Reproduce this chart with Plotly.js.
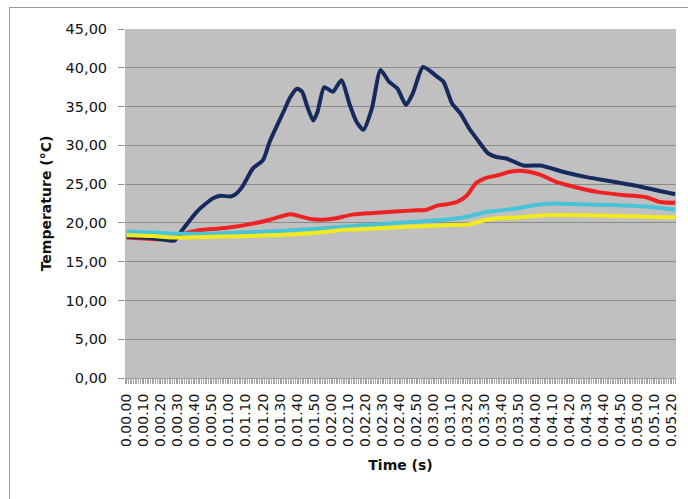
<!DOCTYPE html>
<html>
<head>
<meta charset="utf-8">
<script src="https://cdn.plot.ly/plotly-3.0.1.min.js"></script>
<style>
  html, body { margin: 0; padding: 0; background: #fff; }
  #wrap { position: relative; width: 688px; height: 499px; overflow: hidden; }
  #chart { width: 688px; height: 499px; }
  #frame { position: absolute; left: 9px; top: 7px; width: 720px; height: 540px;
           border: 1px solid #9a9a9a; pointer-events: none; }
</style>
</head>
<body>
<div id="wrap">
  <div id="chart"></div>
  <div id="frame"></div>
</div>
<script>
// Tick labels (every 10 s)
const timeLabels = ["0.00.00","0.00.10","0.00.20","0.00.30","0.00.40","0.00.50",
  "0.01.00","0.01.10","0.01.20","0.01.30","0.01.40","0.01.50",
  "0.02.00","0.02.10","0.02.20","0.02.30","0.02.40","0.02.50",
  "0.03.00","0.03.10","0.03.20","0.03.30","0.03.40","0.03.50",
  "0.04.00","0.04.10","0.04.20","0.04.30","0.04.40","0.04.50",
  "0.05.00","0.05.10","0.05.20"];
const tickSeconds = [0,10,20,30,40,50,60,70,80,90,100,110,120,130,140,150,160,170,
  180,190,200,210,220,230,240,250,260,270,280,290,300,310,320];

// Navy series (time in s, temperature in °C)
const navyTime = [0,10,20,28,32,41,46,51,55,61,64,68,74,80,84,92,96,100,103,106,109.5,112,
  116,121,126,131,135,139,144,149,154,159,164,168,174,182,186,191,196,201,206,212,217,223,
  233,243,256,270,286,301,311,322];
const navyTemp = [18.2,18.1,17.9,17.7,18.9,21.4,22.4,23.2,23.5,23.4,23.7,24.7,27.0,28.1,30.5,
  34.3,36.2,37.3,36.9,35.0,33.2,34.3,37.5,36.9,38.4,35.2,33.0,32.0,34.8,39.7,38.2,37.3,35.2,
  36.7,40.1,38.9,38.2,35.4,34.1,32.2,30.7,29.0,28.5,28.3,27.4,27.4,26.6,25.9,25.3,24.7,24.2,23.7];

// Red series
const redTime = [0,10,20,30,35,41,50,60,74,84,90,96,101,108,115,123,133,147,160,168,176,182,
  188,194,200,205,211,219,225,233,243,252,262,276,291,305,313,322];
const redTemp = [18.1,18.0,17.9,18.3,18.7,19.0,19.2,19.4,19.9,20.4,20.8,21.1,20.9,20.5,20.4,
  20.6,21.1,21.3,21.5,21.6,21.7,22.2,22.4,22.7,23.6,25.1,25.8,26.2,26.6,26.7,26.2,25.3,24.7,
  24.0,23.6,23.3,22.7,22.6];

// Cyan series
const cyanTime = [0,10,20,30,45,60,84,110,127,147,166,186,200,211,227,240,250,266,286,305,322];
const cyanTemp = [18.9,18.8,18.7,18.6,18.6,18.7,18.9,19.2,19.5,19.8,20.1,20.4,20.8,21.4,21.8,
  22.3,22.5,22.4,22.3,22.1,21.7];

// Yellow series
const yellowTime = [0,15,30,50,84,110,127,147,166,186,201,211,219,230,246,266,286,305,322];
const yellowTemp = [18.4,18.3,18.1,18.2,18.4,18.7,19.1,19.3,19.5,19.7,19.8,20.4,20.6,20.7,
  21.0,21.0,20.9,20.8,20.7];

function series(x, y, color) {
  return { x: x, y: y, type: 'scatter', mode: 'lines',
    line: { color: color, width: 4, shape: 'spline', smoothing: 0.6 },
    hoverinfo: 'skip', showlegend: false };
}

const data = [
  series(redTime, redTemp, '#ee2222'),
  series(navyTime, navyTemp, '#172a5e'),
  series(cyanTime, cyanTemp, '#48c4d8'),
  series(yellowTime, yellowTemp, '#f3ea1c')
];

const font = "DejaVu Sans, Arial, sans-serif";

const layout = {
  width: 688, height: 499,
  paper_bgcolor: '#ffffff',
  plot_bgcolor: '#c0c0c0',
  margin: { l: 125, r: 12, t: 29, b: 121 },
  separators: ',.',
  showlegend: false,
  xaxis: {
    type: 'linear',
    range: [-1, 322.5],
    tickmode: 'array',
    tickvals: tickSeconds,
    ticktext: timeLabels,
    tickangle: -90,
    tickfont: { family: font, size: 14, color: '#111' },
    ticks: 'outside', ticklen: 5, tickcolor: '#9a9a9a', tickwidth: 1,
    ticklabelstandoff: 4,
    minor: { tickmode: 'linear', tick0: 0, dtick: 1, ticks: 'outside', ticklen: 5,
             tickcolor: '#a8a8a8', tickwidth: 1, showgrid: false },
    showgrid: false, zeroline: false,
    showline: true, linecolor: '#9a9a9a', linewidth: 1,
    title: { text: '<b>Time (s)</b>', font: { family: font, size: 14, color: '#111' }, standoff: 14 },
    fixedrange: true
  },
  yaxis: {
    range: [0, 45],
    tickmode: 'linear', tick0: 0, dtick: 5,
    tickformat: '.2f',
    tickfont: { family: font, size: 14.5, color: '#111' },
    ticks: 'outside', ticklen: 6, tickcolor: '#8a8a8a', tickwidth: 1,
    ticklabelstandoff: 8,
    showgrid: true, gridcolor: '#8a8a8a', gridwidth: 1,
    zeroline: false, showline: false,
    title: { text: '<b>Temperature (°C)</b>', font: { family: font, size: 14, color: '#111' }, standoff: 10 },
    fixedrange: true
  }
};

Plotly.newPlot('chart', data, layout, { displayModeBar: false, staticPlot: true });
</script>
</body>
</html>
